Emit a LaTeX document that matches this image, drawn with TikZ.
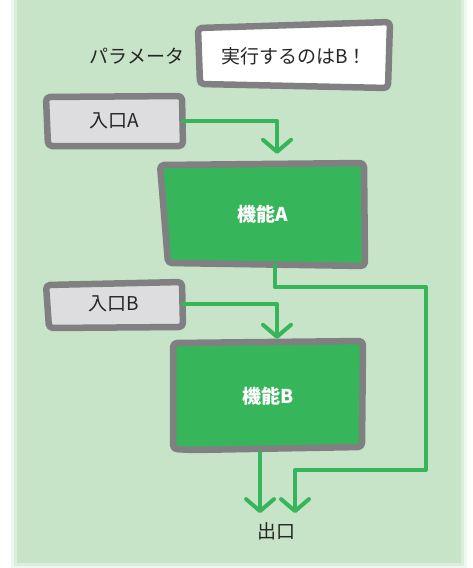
\documentclass[tikz,border=0pt]{standalone}
\usepackage{fontspec}
\setmainfont{Noto Sans CJK JP}
\usetikzlibrary{arrows.meta}
\definecolor{bgg}{HTML}{C8E4C8}
\definecolor{gr}{HTML}{36B55A}
\definecolor{bd}{HTML}{808083}
\definecolor{lg}{HTML}{DDDDE0}
\tikzset{
  lbl/.style={inner sep=0pt, font=\fontsize{19}{19}\selectfont, text=black!85},
  fnlbl/.style={inner sep=0pt, font=\bfseries\fontsize{19}{19}\selectfont, text=white},
  box/.style={draw=bd, line width=6.5pt, line join=round, rounded corners=4pt},
  conn/.style={draw=gr, line width=4pt, line cap=round, line join=round},
  arr/.style={conn, -{Straight Barb[length=12pt,width=28pt,line width=4pt,line cap=round,line join=round]}},
}
\begin{document}
\begin{tikzpicture}[x=1pt,y=-1pt]
\useasboundingbox (0,0) rectangle (473,568);
% background
\fill[bgg, opacity=0.3] (11,0) rectangle (467,569);
\fill[bgg, opacity=0.5] (14,0) rectangle (464,566);
\fill[bgg] (17,0) rectangle (461,563);
% box outlines
\path[box, fill=white] (198,28) -- (390,22) -- (388,88) -- (200,84) -- cycle;
\path[box, fill=lg] (46,97) -- (182,96) -- (183,146) -- (48,146) -- cycle;
\path[box, fill=gr] (160,165) -- (364,163) -- (365,266) -- (168,263) -- cycle;
\path[box, fill=lg] (46,285) -- (182,282) -- (183,327) -- (49,328) -- cycle;
\path[box, fill=gr] (173,343) -- (363,341) -- (362,447) -- (193,450) -- (173,449) -- cycle;
% nodes
\node[lbl] (param) at (137,56) {パラメータ};
\node[lbl, minimum width=190pt, minimum height=60pt] (pbox) at (294,56) {実行するのはB！};
\node[lbl, minimum width=137pt, minimum height=50pt] (inA) at (114,121) {入口A};
\node[fnlbl, minimum width=203pt, minimum height=102pt] (fnA) at (263,214) {機能A};
\node[lbl, minimum width=137pt, minimum height=44pt] (inB) at (114,304) {入口B};
\node[fnlbl, minimum width=190pt, minimum height=108pt] (fnB) at (268,396) {機能B};
\node[lbl] (out) at (276,531) {出口};
\coordinate (jA) at (426,470);
% connectors
\draw[arr] (inA.east) -| ([shift={(14,-9)}]fnA.north);
\draw[arr] (inB.east) -| ([shift={(9,-3)}]fnB.north);
\draw[arr] ([xshift=12pt]fnA.south) -- ++(0,22) -| (jA) -| ([shift={(19,-9)}]out.north);
\draw[arr] ([shift={(-8,2)}]fnB.south) -- ([shift={(-16,-9)}]out.north);
\end{tikzpicture}
\end{document}
